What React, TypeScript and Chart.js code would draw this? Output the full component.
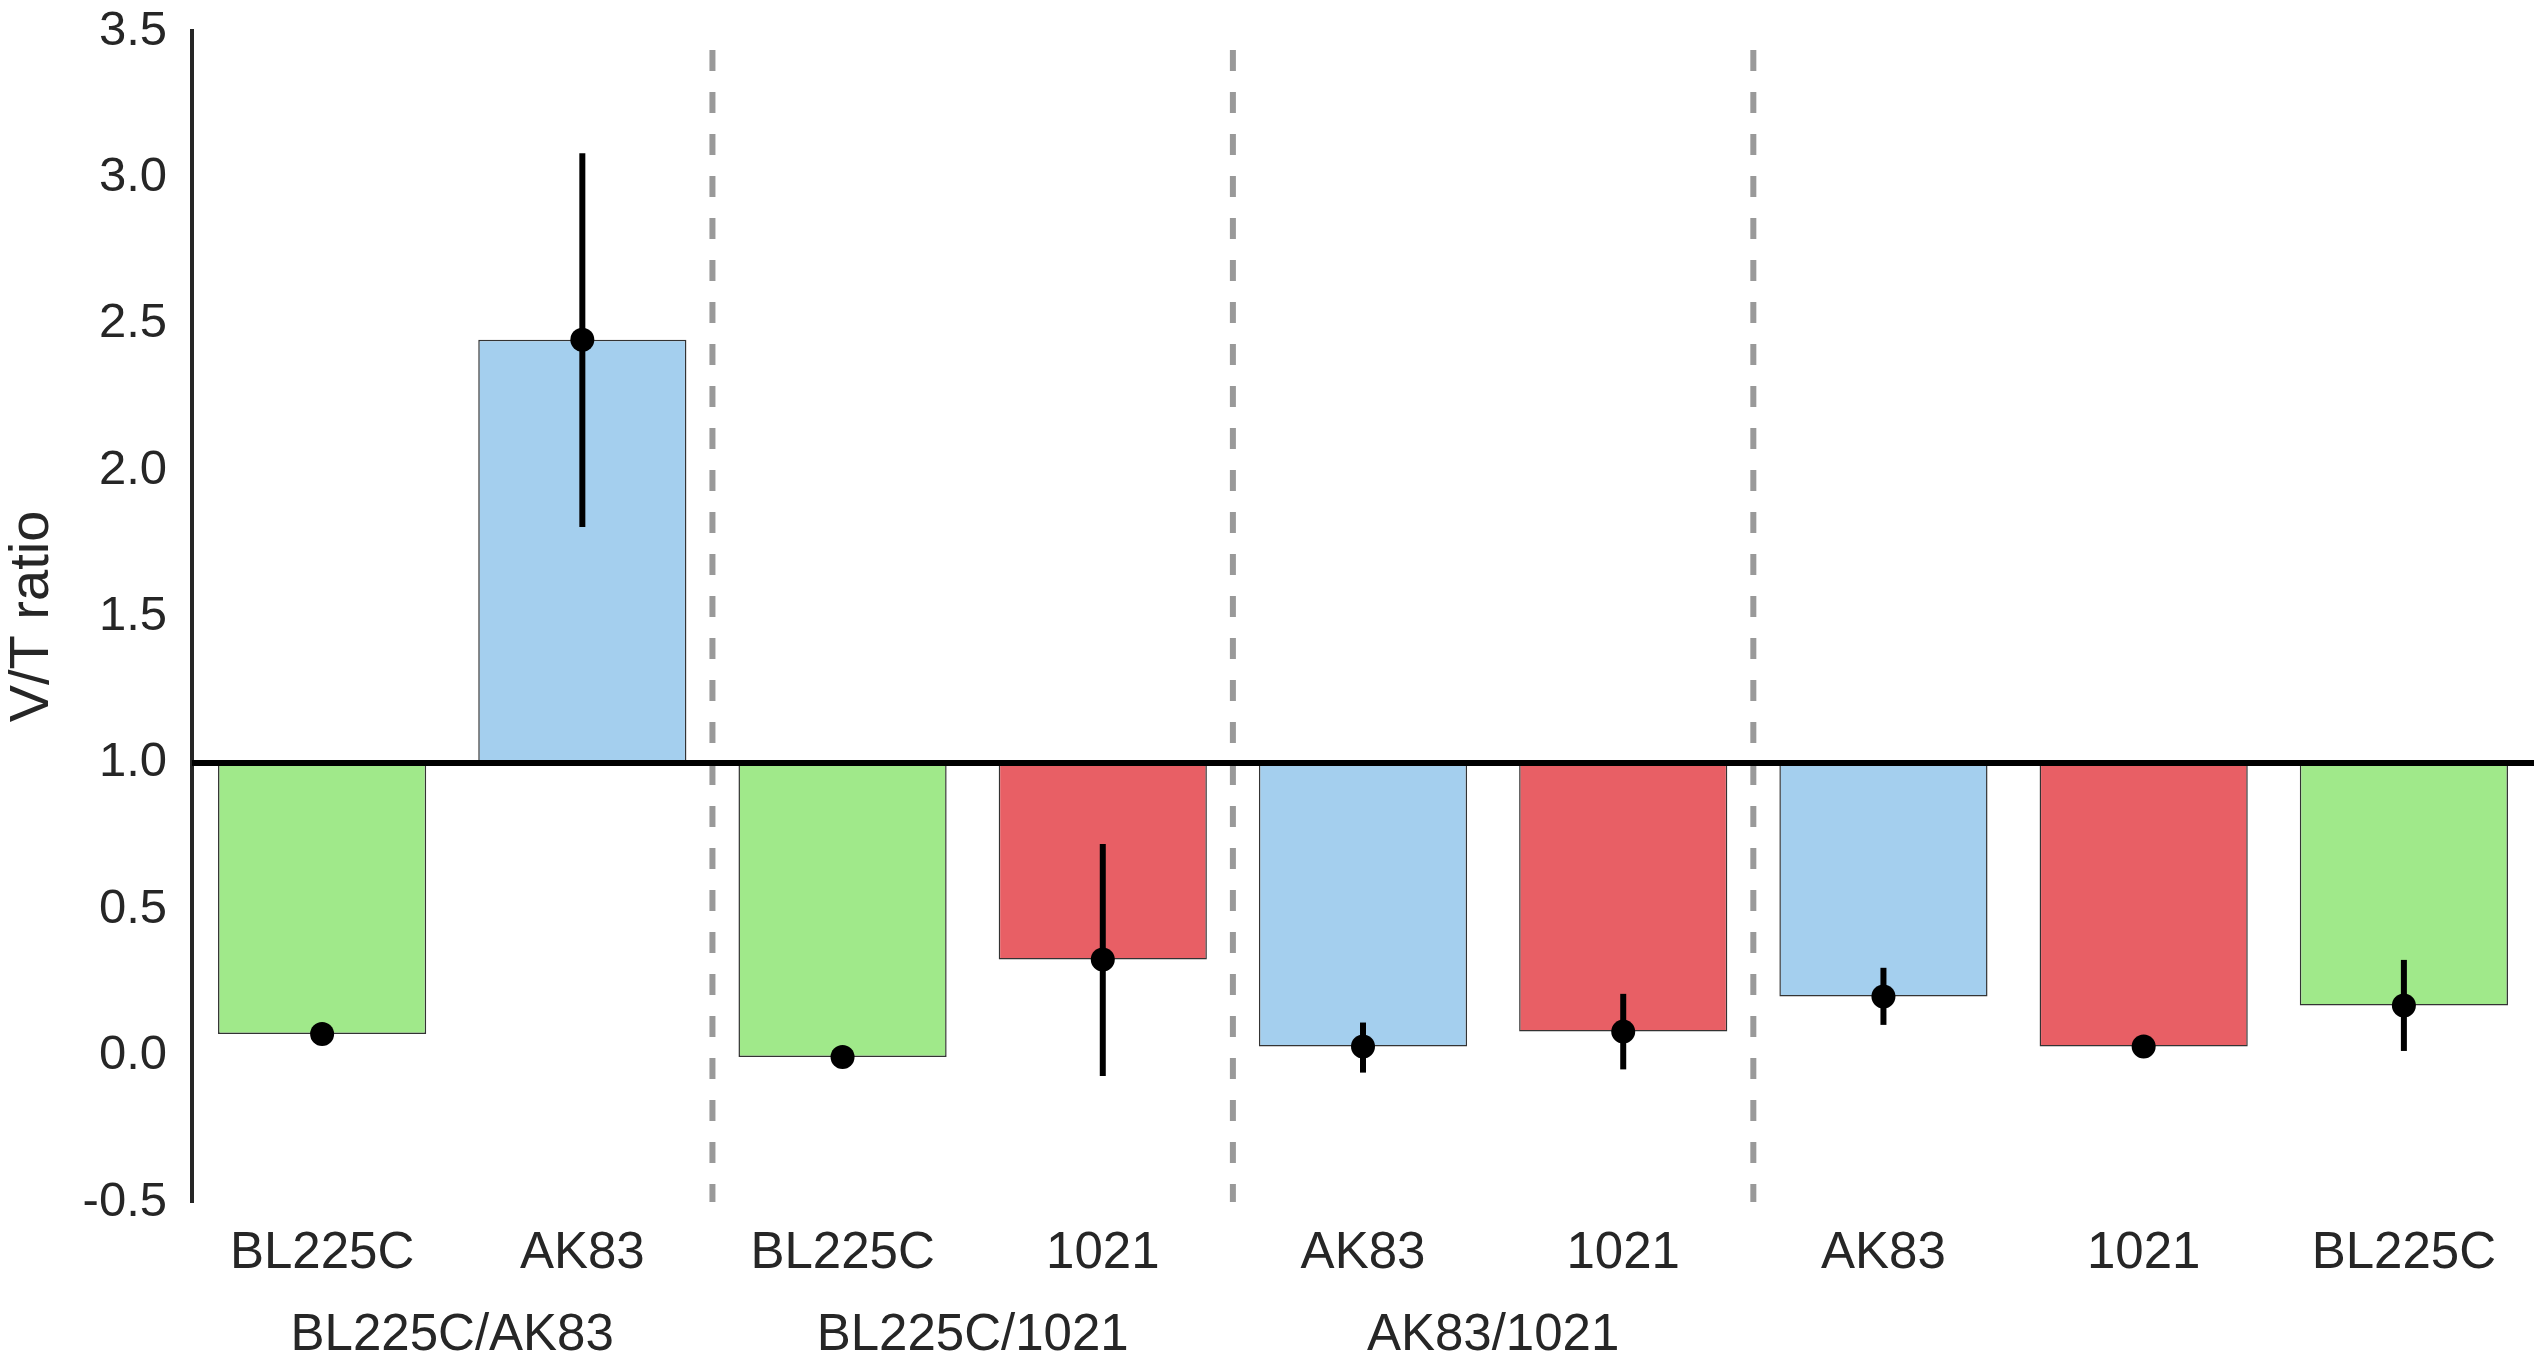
import React, { useEffect, useRef } from 'react';
import Chart from 'chart.js/auto';

const categories = ['BL225C', 'AK83', 'BL225C', '1021', 'AK83', '1021', 'AK83', '1021', 'BL225C'];
const ratios = [0.074, 2.445, -0.005, 0.328, 0.031, 0.082, 0.202, 0.031, 0.171];
const errLow = [0.065, 1.806, -0.012, -0.07, -0.058, -0.047, 0.105, 0.024, 0.016];
const errHigh = [0.083, 3.082, 0.002, 0.723, 0.113, 0.211, 0.3, 0.038, 0.327];
const barColors = ['#a0e98a', '#a4cfee', '#a0e98a', '#e85f65', '#a4cfee', '#e85f65', '#a4cfee', '#e85f65', '#a0e98a'];
const groupLabels = ['BL225C/AK83', 'BL225C/1021', 'AK83/1021'];
const groupStarts = [0, 2, 4];
const separatorsAfter = [1, 3, 5];
const baseline = 1.0;

const FONT = '"Liberation Sans", Arial, sans-serif';
const TEXT = '#262626';

const decorations = {
  id: 'decorations',
  beforeDatasetsDraw(chart: any) {
    const { ctx, chartArea, scales } = chart;
    const x = scales.x;
    const y = scales.y;
    ctx.save();
    ctx.strokeStyle = '#999999';
    ctx.lineWidth = 6;
    ctx.setLineDash([21, 21]);
    ctx.lineDashOffset = 23;
    separatorsAfter.forEach((i) => {
      const px = (x.getPixelForValue(i) + x.getPixelForValue(i + 1)) / 2;
      ctx.beginPath();
      ctx.moveTo(px, y.getPixelForValue(3.5));
      ctx.lineTo(px, y.getPixelForValue(-0.5));
      ctx.stroke();
    });
    ctx.restore();

    // group labels under the tick labels
    ctx.save();
    ctx.fillStyle = TEXT;
    ctx.font = `51px ${FONT}`;
    ctx.textAlign = 'center';
    ctx.textBaseline = 'middle';
    groupStarts.forEach((s, k) => {
      const px = (x.getPixelForValue(s) + x.getPixelForValue(s + 1)) / 2;
      ctx.fillText(groupLabels[k], px, chartArea.bottom + 134);
    });
    ctx.restore();
  },
  afterDatasetDraw(chart: any, args: any) {
    if (args.index !== 0) return;
    const { ctx, scales } = chart;
    const x = scales.x;
    const y = scales.y;
    ctx.save();
    ctx.strokeStyle = '#000000';
    ctx.lineWidth = 6;
    categories.forEach((_, i) => {
      const px = x.getPixelForValue(i);
      ctx.beginPath();
      ctx.moveTo(px, y.getPixelForValue(errLow[i]));
      ctx.lineTo(px, y.getPixelForValue(errHigh[i]));
      ctx.stroke();
    });
    ctx.restore();
  },
  afterDatasetsDraw(chart: any) {
    const { ctx, chartArea, scales } = chart;
    const py = scales.y.getPixelForValue(baseline);
    ctx.save();
    ctx.strokeStyle = '#000000';
    ctx.lineWidth = 6;
    ctx.beginPath();
    ctx.moveTo(chartArea.left, py);
    ctx.lineTo(chartArea.right, py);
    ctx.stroke();
    ctx.restore();
  },
};

const RatioChart: React.FC = () => {
  const chartRef = useRef<HTMLCanvasElement | null>(null);
  const chartInstanceRef = useRef<Chart | null>(null);

  useEffect(() => {
    const ctx = chartRef.current;
    if (!ctx) return;

    if (chartInstanceRef.current) {
      chartInstanceRef.current.destroy();
    }

    chartInstanceRef.current = new Chart(ctx, {
      type: 'bar',
      data: {
        labels: categories,
        datasets: [
          {
            type: 'bar',
            label: 'ratio',
            data: ratios.map((v) => [v, baseline]) as any,
            backgroundColor: barColors,
            borderColor: '#333333',
            borderWidth: 1.5,
            borderSkipped: false,
            barPercentage: 0.8,
            categoryPercentage: 1.0,
            order: 2,
          },
          {
            type: 'line',
            label: 'mean',
            data: ratios,
            showLine: false,
            pointRadius: 12,
            pointHoverRadius: 12,
            pointBackgroundColor: '#000000',
            pointBorderWidth: 0,
            borderColor: '#000000',
            order: 1,
          } as any,
        ],
      },
      options: {
        animation: false,
        responsive: true,
        maintainAspectRatio: false,
        devicePixelRatio: 1,
        layout: { padding: { top: 0, right: 12, left: 0, bottom: 0 } },
        plugins: {
          legend: { display: false },
          tooltip: { enabled: false },
        },
        scales: {
          x: {
            grid: { display: false, drawTicks: false },
            border: { display: false },
            ticks: {
              color: TEXT,
              font: { family: FONT, size: 51 },
              padding: 21,
            },
            afterFit: (scale: any) => {
              scale.height = 162;
            },
          },
          y: {
            min: -0.5,
            max: 3.5,
            grid: { display: false, drawTicks: false },
            border: { display: true, color: TEXT, width: 4 },
            ticks: {
              stepSize: 0.5,
              color: TEXT,
              padding: 25,
              font: { family: FONT, size: 49 },
              callback: (v: any) => Number(v).toFixed(1),
            },
            title: {
              display: true,
              text: 'V/T ratio',
              color: TEXT,
              font: { family: FONT, size: 56, lineHeight: 1.15 },
              padding: { top: 0, bottom: 0 },
            },
            afterFit: (scale: any) => {
              scale.width = 192;
              scale.paddingTop = 31;
              scale.paddingBottom = 30;
            },
          },
        },
      },
      plugins: [decorations],
    });

    return () => {
      if (chartInstanceRef.current) {
        chartInstanceRef.current.destroy();
        chartInstanceRef.current = null;
      }
    };
  }, []);

  return (
    <div style={{ position: 'fixed', left: 0, top: 0, width: '100vw', height: '100vh', background: '#ffffff' }}>
      <canvas ref={chartRef}></canvas>
    </div>
  );
};

export default function App() {
  return <RatioChart />;
}
